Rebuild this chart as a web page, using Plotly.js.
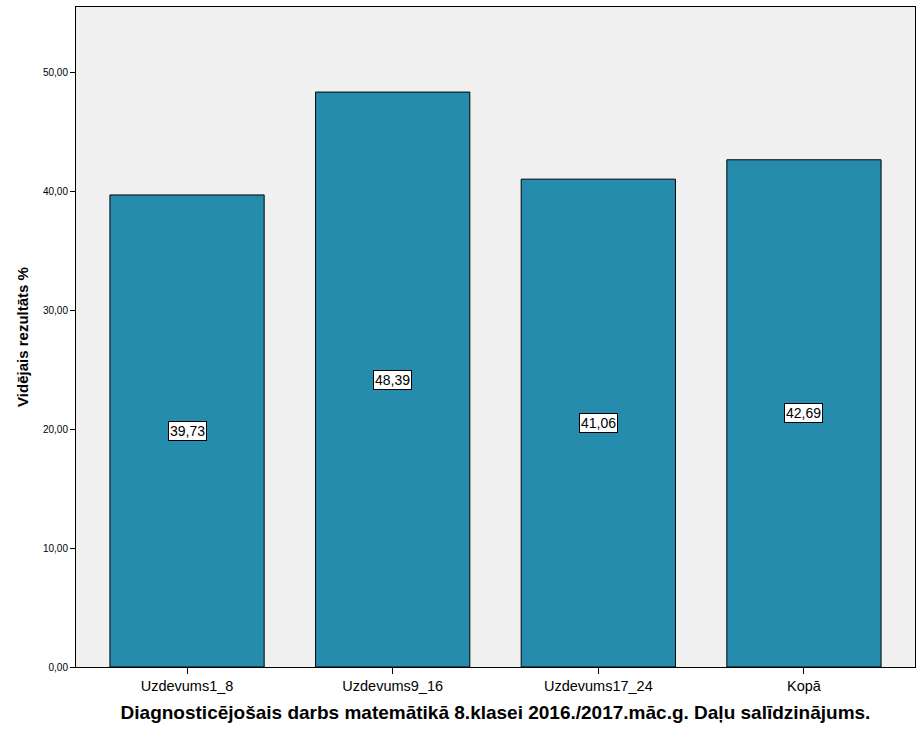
<!DOCTYPE html>
<html>
<head>
<meta charset="utf-8">
<script src="https://cdn.plot.ly/plotly-3.0.1.min.js"></script>
<style>
  body { margin: 0; background: #fff; }
  #chart { width: 924px; height: 739px; }
</style>
</head>
<body>
<div id="chart"></div>
<script>
// Dati
const categories = ["Uzdevums1_8", "Uzdevums9_16", "Uzdevums17_24", "Kopā"];
const values = [39.73, 48.39, 41.06, 42.69];
const yTicks = [0, 10, 20, 30, 40, 50];

const CHART_ID = "chart";

// vērtības ar komatu
function fmt(v) {
  return v.toFixed(2).replace(".", ",");
}

const barTrace = {
  type: "bar",
  x: categories,
  y: values,
  marker: {
    color: "#268cae",
    line: { color: "#000", width: 1 },
  },
  hoverinfo: "x+y",
};

// etiķetes bāru vidū
const labels = categories.map((c, i) => ({
  x: c,
  y: values[i] / 2,
  xref: "x",
  yref: "y",
  text: fmt(values[i]),
  showarrow: false,
  bgcolor: "#fff",
  bordercolor: "#000",
  borderwidth: 1,
  borderpad: 1,
  font: { family: "Arial, Liberation Sans, sans-serif", size: 14, color: "#000" },
}));

const layout = {
  width: 924,
  height: 739,
  margin: { l: 76, r: 9, t: 7, b: 72 },
  paper_bgcolor: "#fff",
  plot_bgcolor: "#f0f0f0",
  showlegend: false,
  bargap: 0.25,
  separators: ", ",
  font: { family: "Arial, Liberation Sans, sans-serif", color: "#000" },
  xaxis: {
    type: "category",
    range: [-0.54, 3.54],
    showline: true,
    linecolor: "#000",
    linewidth: 1,
    mirror: true,
    ticks: "outside",
    ticklen: 6,
    tickcolor: "#000",
    tickfont: { size: 14.5 },
    title: {
      text: "Diagnosticējošais darbs matemātikā 8.klasei 2016./2017.māc.g. Daļu salīdzinājums.",
      font: { size: 19, weight: "bold" },
      standoff: 12,
    },
  },
  yaxis: {
    range: [0, 55.55],
    tickvals: yTicks,
    ticktext: yTicks.map(fmt),
    showgrid: false,
    zeroline: false,
    showline: true,
    linecolor: "#000",
    linewidth: 1,
    mirror: true,
    ticks: "outside",
    ticklen: 5,
    tickcolor: "#000",
    tickfont: { size: 10 },
    title: {
      text: "Vidējais rezultāts %",
      font: { size: 15, weight: "bold" },
      standoff: 10,
    },
  },
  annotations: labels,
};

Plotly.newPlot(CHART_ID, [barTrace], layout, { displayModeBar: false, staticPlot: true });
</script>
</body>
</html>
